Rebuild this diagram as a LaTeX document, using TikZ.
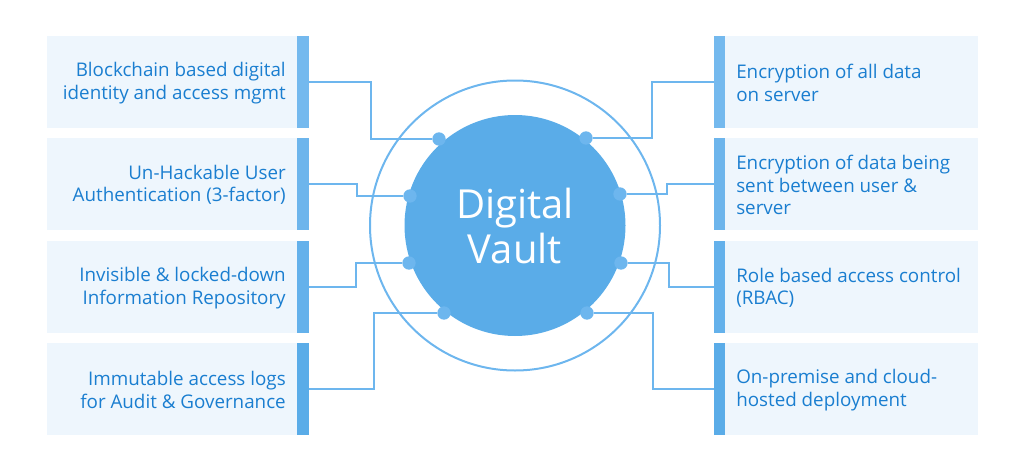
\documentclass[tikz,border=0pt]{standalone}
\usepackage{fontspec}
\setmainfont{Open Sans}
\usetikzlibrary{positioning}
\definecolor{pale}{HTML}{EEF6FD}
\definecolor{sky}{HTML}{6DB6EE}
\definecolor{vault}{HTML}{5AACE8}
\definecolor{ink}{HTML}{1A7ED0}
\definecolor{barA}{HTML}{74B9EE}
\definecolor{barB}{HTML}{6DB5EC}
\definecolor{barC}{HTML}{64B1EB}
\definecolor{barD}{HTML}{5AACE8}

\begin{document}
\begin{tikzpicture}[x=0.75pt,y=-0.75pt,
    card/.style={fill=pale,minimum height=69pt,inner sep=0pt},
    lcard/.style={card,minimum width=187.5pt},
    rcard/.style={card,minimum width=189.75pt},
    bar/.style={minimum width=8.5pt,minimum height=69pt,inner sep=0pt},
    lbl/.style={font=\fontsize{14.1}{16.9}\selectfont,text=ink,inner sep=0pt},
    wire/.style={draw=sky,line width=1.5pt},
    dot/.style={circle,fill=sky,minimum size=10pt,inner sep=0pt}]
  \useasboundingbox (0,0) rectangle (1024,471);

  % left column
  \node[lcard] (lc1) at (172,82) {};
  \node[lcard] (lc2) at (172,184) {};
  \node[lcard] (lc3) at (172,287) {};
  \node[lcard] (lc4) at (172,389) {};
  \node[bar,fill=barA] (lb1) at (303,82) {};
  \node[bar,fill=barB] (lb2) at (303,184) {};
  \node[bar,fill=barC] (lb3) at (303,287) {};
  \node[bar,fill=barD] (lb4) at (303,389) {};
  \node[lbl,align=right,anchor=east] (lt1) at (286,83)
    {Blockchain based digital\\identity and access mgmt};
  \node[lbl,align=right,anchor=east] (lt2) at (286,185)
    {Un-Hackable User\\Authentication (3-factor)};
  \node[lbl,align=right,anchor=east] (lt3) at (286,288)
    {Invisible \& locked-down\\Information Repository};
  \node[lbl,align=right,anchor=east] (lt4) at (286,390)
    {Immutable access logs\\for Audit \& Governance};

  % right column
  \node[rcard] (rc1) at (851.5,82) {};
  \node[rcard] (rc2) at (851.5,184) {};
  \node[rcard] (rc3) at (851.5,287) {};
  \node[rcard] (rc4) at (851.5,389) {};
  \node[bar,fill=barA] (rb1) at (719.5,82) {};
  \node[bar,fill=barB] (rb2) at (719.5,184) {};
  \node[bar,fill=barC] (rb3) at (719.5,287) {};
  \node[bar,fill=barD] (rb4) at (719.5,389) {};
  \node[lbl,align=left,anchor=west] (rt1) at (736,83)
    {Encryption of all data\\on server};
  \node[lbl,align=left,anchor=west] (rt2) at (736,185)
    {Encryption of data being\\sent between user \&\\server};
  \node[lbl,align=left,anchor=west] (rt3) at (736,288)
    {Role based access control\\(RBAC)};
  \node[lbl,align=left,anchor=west] (rt4) at (736,390)
    {On-premise and cloud-\\hosted deployment};

  % vault
  \node[circle,fill=vault,minimum size=165.75pt,inner sep=0pt,text=white,
    align=center,font=\fontsize{30}{33.75}\selectfont] (vault) at (515,225.5)
    {Digital\\Vault};
  \draw[sky,line width=1.5pt] (vault.center) circle[radius=108.75pt];

  % bends
  \coordinate (lk1) at (371,139);
  \coordinate (lk2) at (357,196);
  \coordinate (lk3) at (356,263);
  \coordinate (lk4) at (374,313);
  \coordinate (rk1) at (652,138);
  \coordinate (rk2) at (667,194);
  \coordinate (rk3) at (669,263);
  \coordinate (rk4) at (653,313);

  % dots on the vault
  \node[dot] (ld1) at (439,139) {};
  \node[dot] (ld2) at (410,196) {};
  \node[dot] (ld3) at (409,263) {};
  \node[dot] (ld4) at (444,313) {};
  \node[dot] (rd1) at (586,138) {};
  \node[dot] (rd2) at (620,194) {};
  \node[dot] (rd3) at (621,263) {};
  \node[dot] (rd4) at (587,313) {};

  \draw[wire] (lb1.east) -| (lk1) -- (ld1);
  \draw[wire] (lb2.east) -| (lk2) -- (ld2);
  \draw[wire] (lb3.east) -| (lk3) -- (ld3);
  \draw[wire] (lb4.east) -| (lk4) -- (ld4);
  \draw[wire] (rb1.west) -| (rk1) -- (rd1);
  \draw[wire] (rb2.west) -| (rk2) -- (rd2);
  \draw[wire] (rb3.west) -| (rk3) -- (rd3);
  \draw[wire] (rb4.west) -| (rk4) -- (rd4);
\end{tikzpicture}
\end{document}
